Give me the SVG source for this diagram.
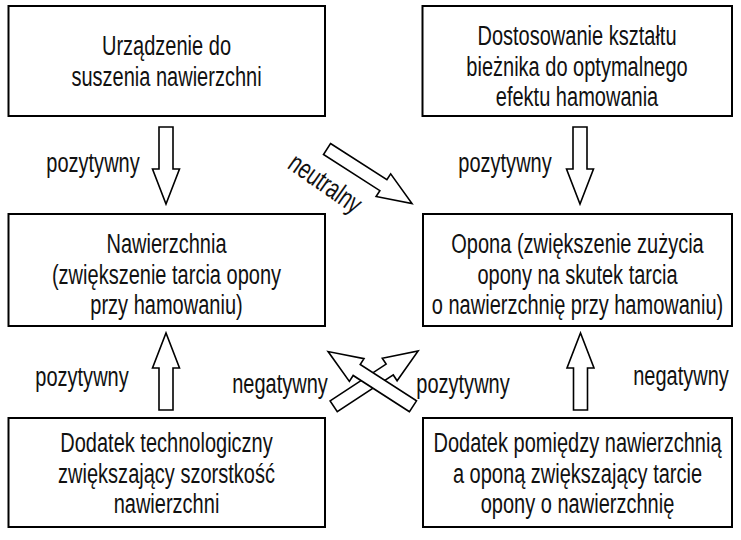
<svg xmlns="http://www.w3.org/2000/svg" width="741" height="540" viewBox="0 0 741 540">
<style>
.box{fill:#fff;stroke:#000;stroke-width:2}
.arr{fill:#fff;stroke:#000;stroke-width:1.6;stroke-linejoin:miter}
text{font-family:"Liberation Sans",Arial,sans-serif;font-size:28px;fill:#111;text-anchor:middle}
</style>
<defs>
<path id="av" d="M0,-7 L42,-7 L42,-13.5 L77,0 L42,13.5 L42,7 L0,7 Z"/>
<path id="ad" d="M0,-6.5 L67,-6.5 L67,-13.5 L101,0 L67,13.5 L67,6.5 L0,6.5 Z"/>
</defs>
<rect width="741" height="540" fill="#fff"/>
<g id="n1"><rect class="box" x="8.5" y="6" width="316.5" height="110"/>
<g transform="translate(166.5,0) scale(0.715,1)"><text x="0" y="55.5">Urządzenie do</text><text x="0" y="86.5">suszenia nawierzchni</text></g></g>
<g id="n2"><rect class="box" x="422.5" y="6" width="309.5" height="110"/>
<g transform="translate(577,0) scale(0.715,1)"><text x="0" y="45">Dostosowanie kształtu</text><text x="0" y="76">bieżnika do optymalnego</text><text x="0" y="106">efektu hamowania</text></g></g>
<g id="n3"><rect class="box" x="8.5" y="214" width="316.5" height="112"/>
<g transform="translate(166.5,0) scale(0.715,1)"><text x="0" y="253">Nawierzchnia</text><text x="0" y="284">(zwiększenie tarcia opony</text><text x="0" y="314">przy hamowaniu)</text></g></g>
<g id="n4"><rect class="box" x="423" y="214" width="309" height="112"/>
<g transform="translate(577.5,0) scale(0.715,1)"><text x="0" y="253">Opona (zwiększenie zużycia</text><text x="0" y="284">opony na skutek tarcia</text><text x="0" y="314">o nawierzchnię przy hamowaniu)</text></g></g>
<g id="n5"><rect class="box" x="8.5" y="418" width="316.5" height="109"/>
<g transform="translate(166.5,0) scale(0.715,1)"><text x="0" y="452.5">Dodatek technologiczny</text><text x="0" y="483.5">zwiększający szorstkość</text><text x="0" y="513.5">nawierzchni</text></g></g>
<g id="n6"><rect class="box" x="423" y="418" width="309" height="109"/>
<g transform="translate(577.5,0) scale(0.715,1)"><text x="0" y="452.5">Dodatek pomiędzy nawierzchnią</text><text x="0" y="483.5">a oponą zwiększający tarcie</text><text x="0" y="513.5">opony o nawierzchnię</text></g></g>
<g id="connectors">
<use href="#av" class="arr" transform="translate(166,127) rotate(90)"/>
<use href="#av" class="arr" transform="translate(580,127) rotate(90)"/>
<use href="#av" class="arr" transform="translate(166,410) rotate(-90)"/>
<use href="#av" class="arr" transform="translate(580.5,410) rotate(-90)"/>
<use href="#ad" class="arr" transform="translate(327,149) rotate(32.7)"/>
<use href="#ad" class="arr" transform="translate(333.7,406.3) rotate(-33.3)"/>
<use href="#ad" class="arr" transform="translate(413,406.3) rotate(-147.2)"/>
<text transform="translate(93,172) scale(0.715,1)">pozytywny</text>
<text transform="translate(505,172) scale(0.715,1)">pozytywny</text>
<text transform="translate(320,191) rotate(35) scale(0.715,1)">neutralny</text>
<text transform="translate(82,386) scale(0.715,1)">pozytywny</text>
<text transform="translate(280,393) scale(0.715,1)">negatywny</text>
<text transform="translate(463,393) scale(0.715,1)">pozytywny</text>
<text transform="translate(681,385) scale(0.715,1)">negatywny</text>
</g>
</svg>
